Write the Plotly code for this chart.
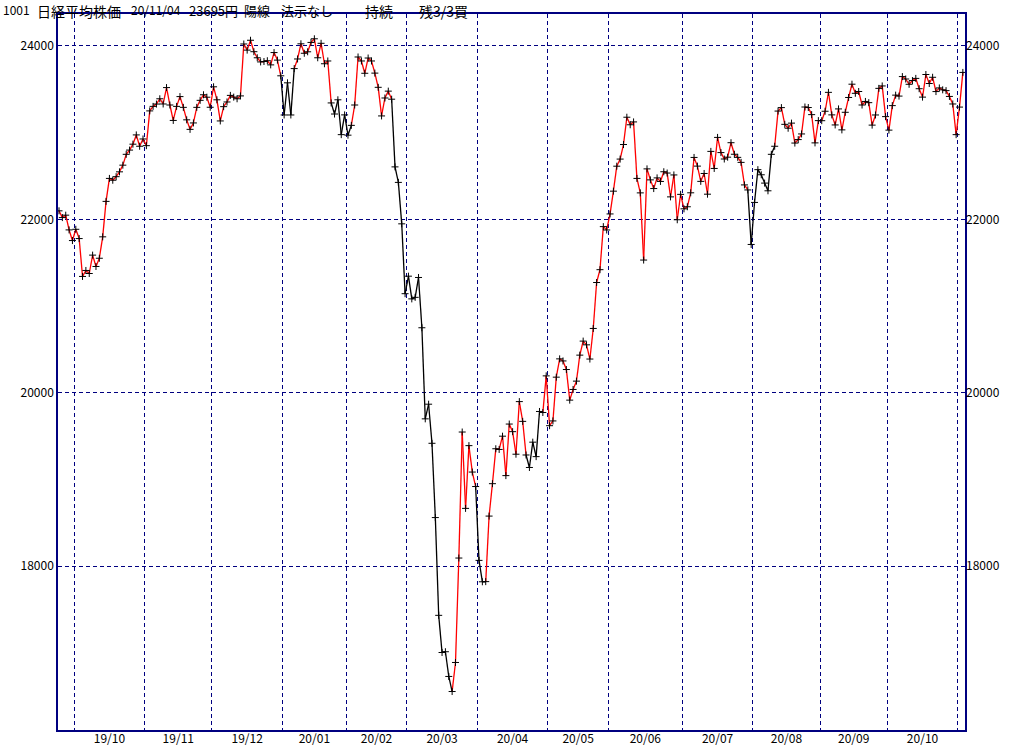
import plotly.graph_objects as go

# ---------------- data ----------------
dates = [
    "2019-09-24", "2019-09-25", "2019-09-26", "2019-09-27", "2019-09-30",
    "2019-10-01", "2019-10-02", "2019-10-03", "2019-10-04", "2019-10-07", "2019-10-08", "2019-10-09",
    "2019-10-10", "2019-10-11", "2019-10-15", "2019-10-16", "2019-10-17", "2019-10-18", "2019-10-21",
    "2019-10-23", "2019-10-24", "2019-10-25", "2019-10-28", "2019-10-29", "2019-10-30", "2019-10-31",
    "2019-11-01", "2019-11-05", "2019-11-06", "2019-11-07", "2019-11-08", "2019-11-11", "2019-11-12",
    "2019-11-13", "2019-11-14", "2019-11-15", "2019-11-18", "2019-11-19", "2019-11-20", "2019-11-21",
    "2019-11-22", "2019-11-25", "2019-11-26", "2019-11-27", "2019-11-28", "2019-11-29",
    "2019-12-02", "2019-12-03", "2019-12-04", "2019-12-05", "2019-12-06", "2019-12-09", "2019-12-10",
    "2019-12-11", "2019-12-12", "2019-12-13", "2019-12-16", "2019-12-17", "2019-12-18", "2019-12-19",
    "2019-12-20", "2019-12-23", "2019-12-24", "2019-12-25", "2019-12-26", "2019-12-27", "2019-12-30",
    "2020-01-06", "2020-01-07", "2020-01-08", "2020-01-09", "2020-01-10", "2020-01-14", "2020-01-15",
    "2020-01-16", "2020-01-17", "2020-01-20", "2020-01-21", "2020-01-22", "2020-01-23", "2020-01-24",
    "2020-01-27", "2020-01-28", "2020-01-29", "2020-01-30", "2020-01-31",
    "2020-02-03", "2020-02-04", "2020-02-05", "2020-02-06", "2020-02-07", "2020-02-10", "2020-02-12",
    "2020-02-13", "2020-02-14", "2020-02-17", "2020-02-18", "2020-02-19", "2020-02-20", "2020-02-21",
    "2020-02-25", "2020-02-26", "2020-02-27", "2020-02-28",
    "2020-03-02", "2020-03-03", "2020-03-04", "2020-03-05", "2020-03-06", "2020-03-09", "2020-03-10",
    "2020-03-11", "2020-03-12", "2020-03-13", "2020-03-16", "2020-03-17", "2020-03-18", "2020-03-19",
    "2020-03-23", "2020-03-24", "2020-03-25", "2020-03-26", "2020-03-27", "2020-03-30", "2020-03-31",
    "2020-04-01", "2020-04-02", "2020-04-03", "2020-04-06", "2020-04-07", "2020-04-08", "2020-04-09",
    "2020-04-10", "2020-04-13", "2020-04-14", "2020-04-15", "2020-04-16", "2020-04-17", "2020-04-20",
    "2020-04-21", "2020-04-22", "2020-04-23", "2020-04-24", "2020-04-27", "2020-04-28", "2020-04-30",
    "2020-05-01", "2020-05-07", "2020-05-08", "2020-05-11", "2020-05-12", "2020-05-13", "2020-05-14",
    "2020-05-15", "2020-05-18", "2020-05-19", "2020-05-20", "2020-05-21", "2020-05-22", "2020-05-25",
    "2020-05-26", "2020-05-27", "2020-05-28", "2020-05-29",
    "2020-06-01", "2020-06-02", "2020-06-03", "2020-06-04", "2020-06-05", "2020-06-08", "2020-06-09",
    "2020-06-10", "2020-06-11", "2020-06-12", "2020-06-15", "2020-06-16", "2020-06-17", "2020-06-18",
    "2020-06-19", "2020-06-22", "2020-06-23", "2020-06-24", "2020-06-25", "2020-06-26", "2020-06-29",
    "2020-06-30",
    "2020-07-01", "2020-07-02", "2020-07-03", "2020-07-06", "2020-07-07", "2020-07-08", "2020-07-09",
    "2020-07-10", "2020-07-13", "2020-07-14", "2020-07-15", "2020-07-16", "2020-07-17", "2020-07-20",
    "2020-07-21", "2020-07-22", "2020-07-27", "2020-07-28", "2020-07-29", "2020-07-30", "2020-07-31",
    "2020-08-03", "2020-08-04", "2020-08-05", "2020-08-06", "2020-08-07", "2020-08-11", "2020-08-12",
    "2020-08-13", "2020-08-14", "2020-08-17", "2020-08-18", "2020-08-19", "2020-08-20", "2020-08-21",
    "2020-08-24", "2020-08-25", "2020-08-26", "2020-08-27", "2020-08-28", "2020-08-31",
    "2020-09-01", "2020-09-02", "2020-09-03", "2020-09-04", "2020-09-07", "2020-09-08", "2020-09-09",
    "2020-09-10", "2020-09-11", "2020-09-14", "2020-09-15", "2020-09-16", "2020-09-17", "2020-09-18",
    "2020-09-23", "2020-09-24", "2020-09-25", "2020-09-28", "2020-09-29", "2020-09-30",
    "2020-10-02", "2020-10-05", "2020-10-06", "2020-10-07", "2020-10-08", "2020-10-09", "2020-10-12",
    "2020-10-13", "2020-10-14", "2020-10-15", "2020-10-16", "2020-10-19", "2020-10-20", "2020-10-21",
    "2020-10-22", "2020-10-23", "2020-10-26", "2020-10-27", "2020-10-28", "2020-10-29", "2020-10-30",
    "2020-11-02", "2020-11-04",
]

closes = [
    22098, 22020, 22048, 21878, 21755,
    21885, 21778, 21341, 21410, 21375, 21587, 21456, 21551, 21798, 22207, 22472, 22451, 22492, 22548,
    22625, 22750, 22799, 22867, 22974, 22843, 22927,
    22850, 23251, 23303, 23330, 23391, 23331, 23520, 23319, 23141, 23303, 23416, 23292, 23148, 23038,
    23112, 23292, 23373, 23437, 23409, 23293,
    23529, 23379, 23135, 23300, 23354, 23430, 23410, 23391, 23424, 24023, 23952, 24066, 23934, 23864,
    23816, 23821, 23830, 23782, 23924, 23837, 23656,
    23204, 23575, 23204, 23739, 23850, 24025, 23916, 23933, 24041, 24083, 23864, 24031, 23795, 23827,
    23343, 23215, 23379, 22977, 23205,
    22971, 23084, 23319, 23873, 23827, 23685, 23861, 23827, 23687, 23523, 23193, 23400, 23479, 23386,
    22605, 22426, 21948, 21142,
    21344, 21082, 21100, 21329, 20749, 19698, 19867, 19416, 18559, 17431, 17002, 17011, 16726, 16552,
    16887, 18092, 19546, 18665, 19389, 19084, 18917,
    18065, 17818, 17820, 18576, 18950, 19353, 19345, 19498, 19043, 19638, 19550, 19290, 19897, 19669,
    19281, 19137, 19429, 19262, 19783, 19771, 20194,
    19619, 19674, 20179, 20390, 20366, 20267, 19914, 20037, 20133, 20433, 20595, 20552, 20388, 20741,
    21271, 21419, 21916, 21877,
    22062, 22325, 22613, 22695, 22863, 23178, 23091, 23124, 22472, 22305, 21530, 22582, 22455, 22355,
    22478, 22437, 22549, 22534, 22259, 22512, 21995, 22288,
    22121, 22145, 22306, 22714, 22614, 22438, 22529, 22290, 22784, 22587, 22945, 22770, 22696, 22717,
    22884, 22751, 22715, 22657, 22397, 22339, 21710,
    22195, 22573, 22514, 22418, 22329, 22750, 22843, 23249, 23289, 23096, 23051, 23110, 22880, 22920,
    22985, 23296, 23290, 23208, 22882, 23139,
    23138, 23247, 23465, 23205, 23089, 23274, 23032, 23235, 23406, 23559, 23454, 23475, 23319, 23360,
    23346, 23087, 23204, 23511, 23539, 23185,
    23029, 23312, 23433, 23422, 23647, 23619, 23558, 23601, 23626, 23507, 23410, 23671, 23567, 23639,
    23474, 23516, 23494, 23485, 23418, 23331, 22977,
    23295, 23695,
]

# days on which the signal was "sell" (segments ending on these days drawn black)
sell_periods = [
    ("2020-01-06", "2020-01-09"),
    ("2020-01-28", "2020-02-04"),
    ("2020-02-25", "2020-03-19"),
    ("2020-04-01", "2020-04-03"),
    ("2020-04-22", "2020-04-27"),
    ("2020-07-31", "2020-08-12"),
]

y_ticks = [18000, 20000, 22000, 24000]
y_range = [16108, 24369]

title_parts = ["1001", "日経平均株価", "20/11/04", "23695円", "陽線", "法示なし", "持続", "残3/3買"]

# ---------------- derived ----------------
n = len(dates)
idx = list(range(n))
months = [d[:7] for d in dates]
bounds = [i - 0.5 for i in range(1, n) if months[i] != months[i - 1]]
mids = [(a + b) / 2 for a, b in zip(bounds[:-1], bounds[1:])]
mid_labels = [months[int(a + 0.5)][2:4] + "/" + months[int(a + 0.5)][5:7] for a in bounds[:-1]]


def is_sell(d):
    return any(a <= d <= b for a, b in sell_periods)


seg = {"red": ([], []), "black": ([], [])}
for i in range(1, n):
    c = "black" if is_sell(dates[i]) else "red"
    xs, ys = seg[c]
    xs += [idx[i - 1], idx[i], None]
    ys += [closes[i - 1], closes[i], None]

NAVY = "#000080"
FONT = "Noto Sans CJK JP, sans-serif"

fig = go.Figure()
for c, col in (("red", "#ff0000"), ("black", "#000000")):
    fig.add_trace(go.Scatter(x=seg[c][0], y=seg[c][1], mode="lines",
                             line=dict(color=col, width=1.3),
                             hoverinfo="skip", showlegend=False))
fig.add_trace(go.Scatter(x=idx, y=closes, mode="markers",
                         marker=dict(symbol="cross-thin", size=5,
                                     line=dict(color="black", width=1)),
                         showlegend=False, text=dates))
# helper traces that carry the overlay axes (vertical grid / right labels)
fig.add_trace(go.Scatter(x=[idx[0]], y=[closes[0]], xaxis="x2", yaxis="y",
                         mode="markers", marker=dict(opacity=0),
                         hoverinfo="skip", showlegend=False))
fig.add_trace(go.Scatter(x=[idx[0]], y=[closes[0]], xaxis="x", yaxis="y2",
                         mode="markers", marker=dict(opacity=0),
                         hoverinfo="skip", showlegend=False))

W, H = 1024, 745
ml, mr, mt, mb = 58, 59, 14, 15
pw = W - ml - mr
ph = H - mt - mb

fig.update_layout(
    width=W, height=H,
    margin=dict(l=ml, r=mr, t=mt, b=mb, autoexpand=False),
    paper_bgcolor="white", plot_bgcolor="white",
    font=dict(family=FONT, size=12, color="black"),
    xaxis=dict(range=[-0.3, n - 1 + 0.64], tickmode="array", tickvals=mids, ticktext=mid_labels,
               showgrid=False, zeroline=False, showline=True, linecolor=NAVY, linewidth=1.5,
               mirror=True, ticks="", tickfont=dict(size=12), automargin=False,
               ticklabelstandoff=-3),
    xaxis2=dict(overlaying="x", matches="x", anchor="y", tickmode="array", tickvals=bounds,
                showticklabels=False, showgrid=True, gridcolor=NAVY, gridwidth=1,
                griddash="4px,3px", zeroline=False, showline=False, ticks="", automargin=False),
    yaxis=dict(range=y_range, tickmode="array", tickvals=y_ticks,
               ticktext=[str(v) for v in y_ticks],
               showgrid=True, gridcolor=NAVY, gridwidth=1, griddash="4px,3px",
               zeroline=False, showline=True, linecolor=NAVY, linewidth=1.5, mirror=True,
               ticks="", tickfont=dict(size=12), automargin=False),
    yaxis2=dict(overlaying="y", matches="y", anchor="x", side="right", tickmode="array",
                tickvals=y_ticks, ticktext=[str(v) for v in y_ticks],
                showgrid=False, zeroline=False, showline=False, ticks="",
                tickfont=dict(size=12), automargin=False),
)

title_px = [2, 36, 130, 188, 243, 280, 364, 418]
title_sz = [12, 14, 12, 13, 13, 13, 14, 14]
for txt, px, sz in zip(title_parts, title_px, title_sz):
    fig.add_annotation(text=txt, xref="paper", yref="paper",
                       x=(px - ml) / pw, y=1 + 14.5 / ph, xanchor="left", yanchor="top",
                       showarrow=False, borderpad=0,
                       font=dict(family=FONT, size=sz, color="black"))

fig.write_html("out.html", config={"displayModeBar": False},
               post_script="document.body.style.margin='0';document.body.style.overflow='hidden';")
